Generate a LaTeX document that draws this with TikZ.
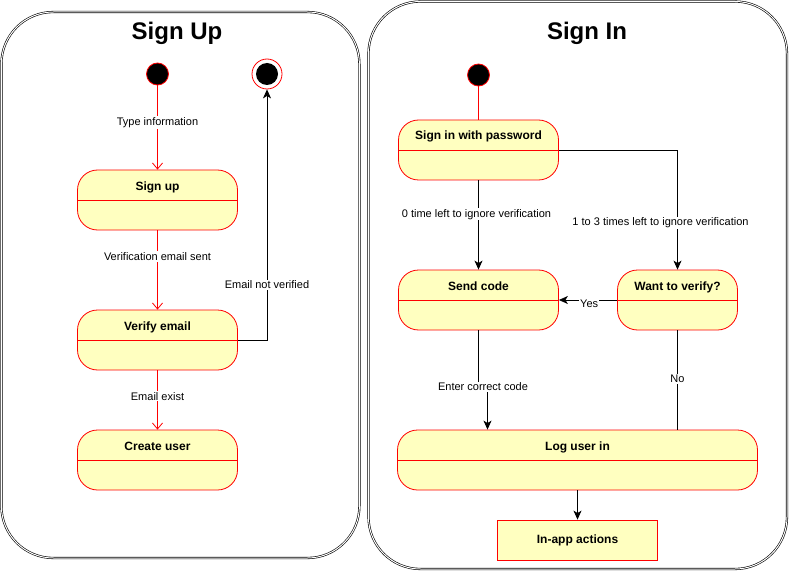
\documentclass[tikz,border=0pt]{standalone}
\usepackage{fontspec}
\setmainfont{Liberation Sans}
\usetikzlibrary{arrows.meta}
\definecolor{stfill}{HTML}{FFFFC0}

\begin{document}
\begin{tikzpicture}[x=1pt, y=-1pt, line width=0.8pt,
  panel/.style={draw, double, line width=0.6pt, double distance=1pt, rounded corners=52pt},
  ttl/.style={anchor=base, font=\fontsize{24}{28}\selectfont\bfseries},
  stbox/.style={draw=red, fill=stfill, rounded corners=20pt, minimum height=60pt, inner sep=0pt, text height=9pt, text depth=29pt, font=\fontsize{12}{14}\selectfont\bfseries, path picture={\draw[red] (path picture bounding box.west) -- (path picture bounding box.east);}},
  startst/.style={circle, draw=red, fill=black, minimum size=22pt, inner sep=0pt},
  endst/.style={circle, draw=red, fill=white, minimum size=30pt, inner sep=0pt, path picture={\fill[black] (path picture bounding box.center) circle (11pt);}},
  lbl/.style={fill=white, inner sep=1pt, font=\fontsize{11}{13}\selectfont},
  redarr/.style={draw=red, -{Straight Barb[length=6pt, width=10pt]}},
  blkarr/.style={draw=black, -{Stealth[length=9pt, width=8pt, inset=2.5pt]}}
]
  \useasboundingbox (0,0) rectangle (789,572);
  \node[panel, minimum width=358pt, minimum height=546pt] (uppanel) at (180.4,285) {};
  \node[panel, minimum width=418.5pt, minimum height=567.5pt] (inpanel) at (577.75,285.25) {};
  \node[ttl] (uptitle) at (177,40) {Sign Up};
  \node[ttl] (intitle) at (587,40) {Sign In};

  \node[startst] (upstart) at (157.5,74) {};
  \node[endst] (upend) at (267,74) {};
  \node[stbox, minimum width=160pt] (signup) at (157.5,200) {Sign up};
  \node[stbox, minimum width=160pt] (verify) at (157.5,340) {Verify email};
  \node[stbox, minimum width=160pt] (create) at (157.5,460) {Create user};

  \node[startst] (instart) at (478.5,75) {};
  \node[stbox, minimum width=160pt] (pwd) at (478.5,150) {Sign in with password};
  \node[stbox, minimum width=160pt] (sendcode) at (478.5,300) {Send code};
  \node[stbox, minimum width=120pt] (wantver) at (677.5,300) {Want to verify?};
  \node[stbox, minimum width=360pt] (login) at (577.5,460) {Log user in};
  \node[draw=red, fill=stfill, minimum width=160pt, minimum height=40pt, font=\fontsize{12}{14}\selectfont\bfseries] (inapp) at (577.5,540) {In-app actions};

  \draw[redarr] (upstart) -- (signup) node[lbl, pos=0.44] {Type information};
  \draw[redarr] (signup) -- (verify) node[lbl, pos=0.33] {Verification email sent};
  \draw[redarr] (verify) -- (create) node[lbl, pos=0.44] {Email exist};
  \draw[blkarr] (verify.east) -| (upend.south) node[lbl, pos=0.61] {Email not verified};

  \draw[red] (instart) -- (pwd);
  \draw[blkarr] (pwd) -- (sendcode) node[lbl, pos=0.38, xshift=-2pt] {0 time left to ignore verification};
  \draw[blkarr] (pwd.east) -| (wantver.north) node[lbl, pos=0.8, xshift=-17pt, yshift=-1pt] {1 to 3 times left to ignore verification};
  \draw[blkarr] (wantver.west) -- (sendcode.east) node[lbl, pos=0.48, yshift=-4pt] {Yes};
  \coordinate (jog) at (483,387);
  \draw[blkarr] (sendcode.south) |- (jog) node[lbl] {Enter correct code} -| ([xshift=-90pt]login.north);
  \draw (wantver.south) -- (wantver.south |- login.north) node[lbl, pos=0.49] {No};
  \draw[blkarr] (login) -- (inapp);
\end{tikzpicture}
\end{document}
